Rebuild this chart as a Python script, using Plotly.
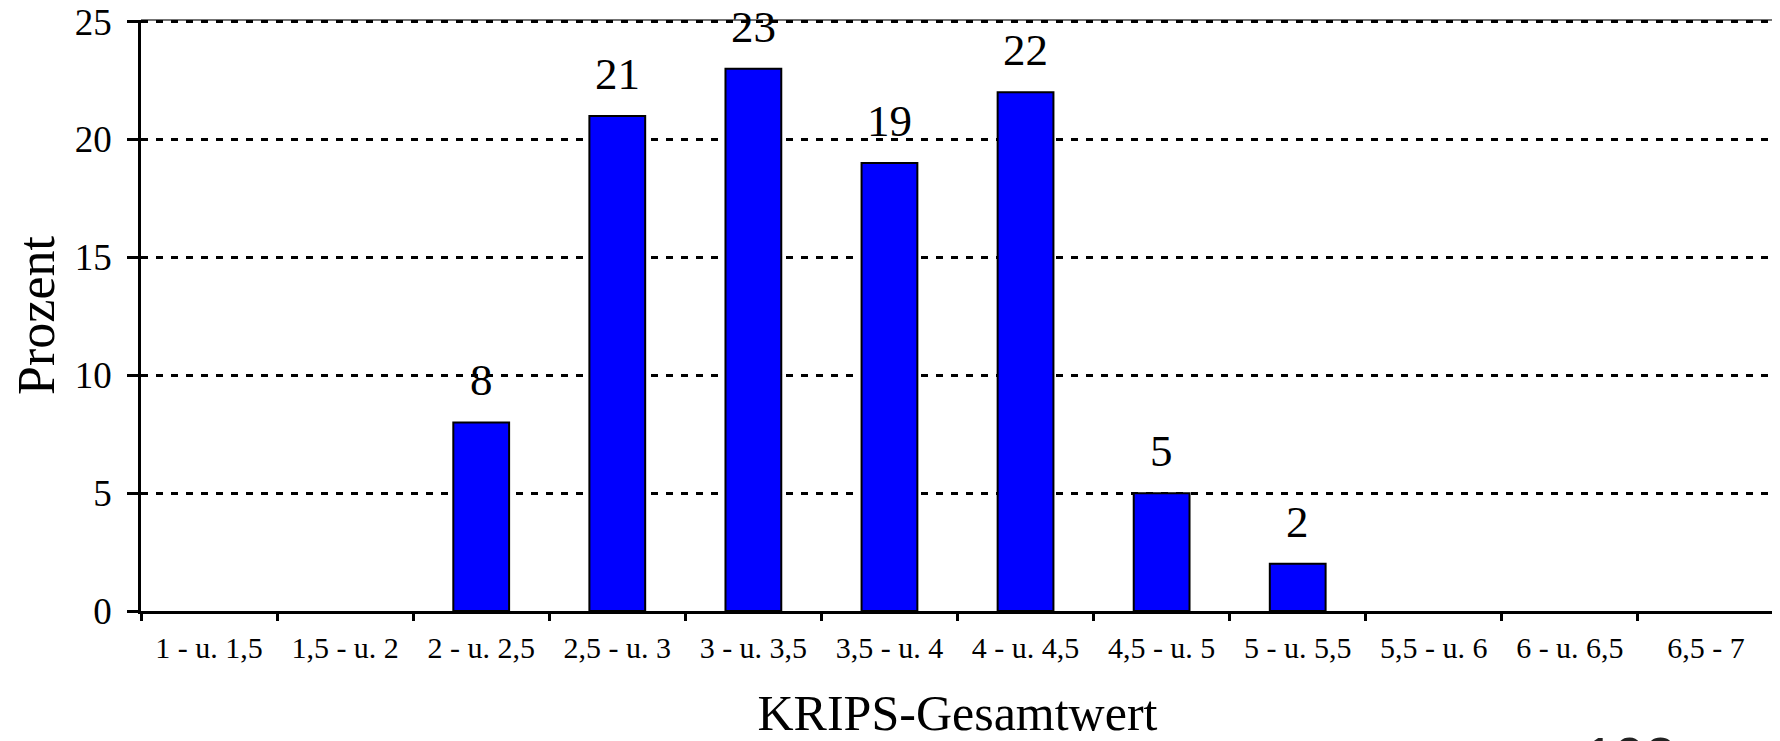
import plotly.graph_objects as go

categories = ["1 - u. 1,5", "1,5 - u. 2", "2 - u. 2,5", "2,5 - u. 3", "3 - u. 3,5",
              "3,5 - u. 4", "4 - u. 4,5", "4,5 - u. 5", "5 - u. 5,5", "5,5 - u. 6",
              "6 - u. 6,5", "6,5 - 7"]
values = [0, 0, 8, 21, 23, 19, 22, 5, 2, 0, 0, 0]
y_ticks = [0, 5, 10, 15, 20, 25]

SERIF = "Liberation Serif, Times New Roman, serif"

fig = go.Figure()
fig.add_trace(go.Bar(
    x=categories, y=values,
    marker=dict(color="#0000FF",
                line=dict(color="black", width=[2 if v > 0 else 0 for v in values])),
    width=0.41,
    hoverinfo="x+y",
))

# value labels above non-empty bars
for c, v in zip(categories, values):
    if v > 0:
        fig.add_annotation(x=c, y=v, text=str(v), showarrow=False,
                           yanchor="bottom", yshift=15,
                           font=dict(family=SERIF, size=45, color="black"))

# page number, cut off at the bottom edge
fig.add_annotation(xref="paper", yref="paper", x=0.912, y=-0.192,
                   text="198", showarrow=False, xanchor="center", yanchor="top",
                   font=dict(family="Liberation Sans, Arial, sans-serif", size=55, color="#222"))

# the page body has an 8px margin: size the figure so it fits the 1780x741 window
fig.update_layout(
    width=1772, height=733,
    margin=dict(l=133, r=6, t=12, b=130),
    plot_bgcolor="white", paper_bgcolor="white",
    showlegend=False,
    font=dict(family=SERIF, color="black"),
    shapes=[dict(type="line", xref="paper", yref="paper", x0=0, x1=1, y0=1, y1=1,
                 line=dict(color="#444", width=1.5), layer="below")],
)
fig.update_xaxes(
    type="category", automargin=False,
    showline=True, linecolor="black", linewidth=2.5,
    ticks="outside", ticklen=7, tickwidth=2.5, tickcolor="black",
    tickson="boundaries",
    showgrid=False,
    tickfont=dict(family=SERIF, size=30, color="black"),
    ticklabelstandoff=8,
    title=dict(text="KRIPS-Gesamtwert", font=dict(family=SERIF, size=50, color="black"),
               standoff=43),
)
fig.update_yaxes(
    range=[0, 25.07], tickvals=y_ticks, automargin=False,
    ticklabeloverflow="allow",
    showline=True, linecolor="black", linewidth=2.5, mirror=True,
    ticks="outside", ticklen=11, tickwidth=2.5, tickcolor="black",
    showgrid=True, gridcolor="black", gridwidth=2.5, griddash="7px,8px",
    zeroline=False,
    tickfont=dict(family=SERIF, size=37, color="black"),
    ticklabelstandoff=8,
    title=dict(text="Prozent", font=dict(family=SERIF, size=52, color="black"),
               standoff=18),
)

fig.write_html("out.html")
